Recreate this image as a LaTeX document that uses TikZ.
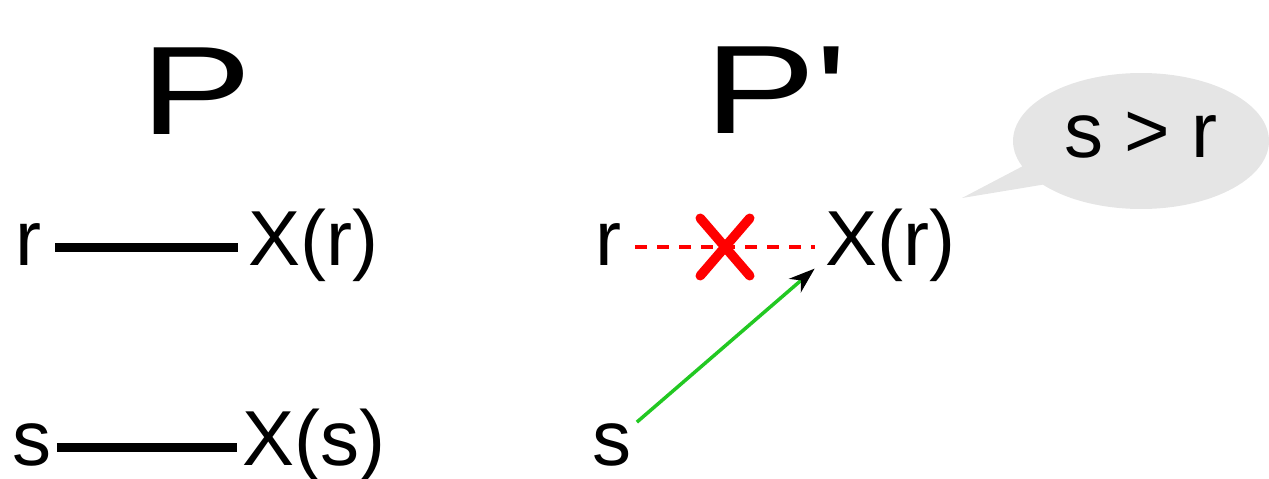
\documentclass[tikz,border=0pt]{standalone}
\usepackage{fontspec}
\setmainfont{Liberation Sans}
\newfontfamily\plainfont{Liberation Sans}
\usetikzlibrary{arrows.meta,shapes.misc,shapes.callouts,calc}
\definecolor{okgreen}{RGB}{34,200,34}
\tikzset{every picture/.style={line width=0.75pt}}
\tikzset{
    lbl/.style={anchor=base, inner sep=5pt, text height=56pt, text depth=20pt,
        font=\fontsize{78}{90}\selectfont},
    title/.style={anchor=base, inner sep=0pt, font=\plainfont\fontsize{126}{140}\selectfont},
    link/.style={line width=9pt},
    broken/.style={red, line width=3.5pt, dash pattern=on 12pt off 10pt},
    cut/.style={cross out, draw=red, line width=9.5pt, line cap=round,
        inner sep=0pt, minimum width=40pt, minimum height=48pt},
    newlink/.style={okgreen, line width=3.5pt,
        -{Stealth[black, length=26pt, width=18pt, inset=8pt]}},
    bubble/.style={ellipse callout, fill=black!10, inner sep=0pt,
        minimum width=256pt, minimum height=136pt, text height=42pt, text depth=10pt,
        callout pointer arc=18, font=\fontsize{78}{90}\selectfont}
}
\begin{document}
\begin{tikzpicture}[x=1pt, y=-1pt]
    \useasboundingbox (0,0) rectangle (1269,479);
    \node[title] (pa) at (196,134) {\scalebox{1.33}[1]{P}};
    \node[title] (pb) at (776,133) {\scalebox{1.33}[1]{P'}};
    \node[lbl, inner xsep=14pt] (rL) at (28,265) {r};
    \node[lbl, inner xsep=10pt] (XrL) at (313,265) {X(r)};
    \node[lbl] (sL) at (32,465) {s};
    \node[lbl] (XsL) at (314,465) {X(s)};
    \node[lbl, inner xsep=14pt] (rR) at (608,265) {r};
    \node[lbl, inner xsep=10pt] (XrR) at (890,265) {X(r)};
    \node[lbl] (sR) at (612,465) {s};
    \coordinate (tip) at (962,198);
    \node[bubble, callout absolute pointer={(tip)}] (cmp) at (1141,141) {s > r};
    \draw[link] (rL.east) -- (XrL.west);
    \draw[link] (sL.east) -- (XsL.west);
    \draw[broken] (rR.east) -- (XrR.west);
    \node[cut] (x) at ($(rR.east)!0.5!(XrR.west)$) {};
    \draw[newlink] (sR.45) -- (XrR.196);
\end{tikzpicture}
\end{document}
